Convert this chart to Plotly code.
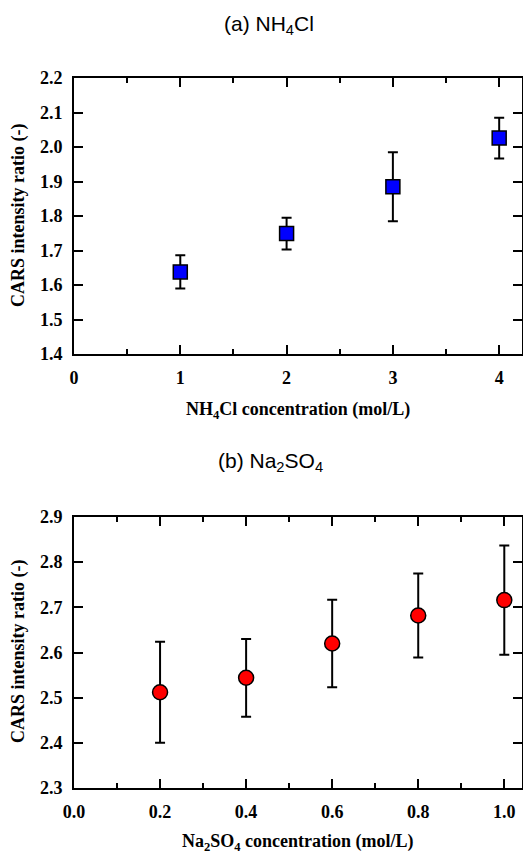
import plotly.graph_objects as go

# Data: (a) NH4Cl
nh4cl_conc = [1, 2, 3, 4]
nh4cl_ratio = [1.638, 1.749, 1.885, 2.026]
nh4cl_err = [0.048, 0.046, 0.100, 0.059]

# Data: (b) Na2SO4
na2so4_conc = [0.2, 0.4, 0.6, 0.8, 1.0]
na2so4_ratio = [2.512, 2.544, 2.620, 2.682, 2.716]
na2so4_err = [0.112, 0.086, 0.097, 0.093, 0.121]

W, H = 523, 855
def px_x(p):
    return p / W
def px_y(p):
    return 1 - p / H

fig = go.Figure()
fig.add_trace(go.Scatter(
    x=nh4cl_conc, y=nh4cl_ratio, mode="markers",
    marker=dict(symbol="square", size=14, color="#0000ff", line=dict(color="black", width=1.5)),
    error_y=dict(type="data", array=nh4cl_err, color="black", thickness=2, width=5),
    xaxis="x", yaxis="y", showlegend=False))
fig.add_trace(go.Scatter(
    x=na2so4_conc, y=na2so4_ratio, mode="markers",
    marker=dict(symbol="circle", size=15, color="#ff0000", line=dict(color="black", width=1.5)),
    error_y=dict(type="data", array=na2so4_err, color="black", thickness=2, width=5),
    xaxis="x2", yaxis="y2", showlegend=False))

tickfont = dict(family="Liberation Serif", size=18, color="black", weight="bold")
common = dict(showline=True, linecolor="black", linewidth=2, mirror="ticks",
              ticks="inside", tickcolor="black", tickwidth=2, showgrid=False,
              zeroline=False, tickfont=tickfont, automargin=False)

fig.update_layout(
    width=W, height=H, margin=dict(l=0, r=0, t=0, b=0),
    paper_bgcolor="white", plot_bgcolor="white",
    xaxis=dict(domain=[px_x(74), px_x(521.5)], anchor="y", range=[0, 4.21],
               tickvals=[0, 1, 2, 3, 4], ticklen=9, ticklabelstandoff=6,
               minor=dict(tickvals=[0.5, 1.5, 2.5, 3.5], ticks="inside", ticklen=5,
                          tickcolor="black", tickwidth=2),
               **common),
    yaxis=dict(domain=[px_y(354), px_y(78)], anchor="x", range=[1.4, 2.2],
               dtick=0.1, tickformat=".1f", ticklen=9, ticklabelstandoff=6, **common),
    xaxis2=dict(domain=[px_x(74), px_x(521.5)], anchor="y2", range=[0, 1.04],
                dtick=0.2, tickformat=".1f", ticklen=9, ticklabelstandoff=6,
                minor=dict(dtick=0.1, ticks="inside", ticklen=5,
                           tickcolor="black", tickwidth=2),
                **common),
    yaxis2=dict(domain=[px_y(788), px_y(517)], anchor="x2", range=[2.3, 2.9],
                dtick=0.1, tickformat=".1f", ticklen=9, ticklabelstandoff=6, **common),
)

title_font = dict(family="Liberation Sans", size=21, color="black")
axis_font = dict(family="Liberation Serif", size=18, color="black", weight="bold")
ann = [
    dict(text="(a) NH<sub>4</sub>Cl", x=px_x(269), y=px_y(25), font=title_font),
    dict(text="(b) Na<sub>2</sub>SO<sub>4</sub>", x=px_x(270), y=px_y(462), font=title_font),
    dict(text="NH<sub>4</sub>Cl concentration (mol/L)", x=px_x(298), y=px_y(410), font=axis_font),
    dict(text="Na<sub>2</sub>SO<sub>4</sub> concentration (mol/L)", x=px_x(298), y=px_y(842), font=axis_font),
    dict(text="CARS intensity ratio (-)", x=px_x(18), y=px_y(216), font=axis_font, textangle=-90),
    dict(text="CARS intensity ratio (-)", x=px_x(18), y=px_y(652), font=axis_font, textangle=-90),
]
for a in ann:
    fig.add_annotation(xref="paper", yref="paper", showarrow=False,
                       xanchor="center", yanchor="middle", **a)

fig.write_html("out.html", config={"displayModeBar": False},
               post_script="document.body.style.margin='0';")
